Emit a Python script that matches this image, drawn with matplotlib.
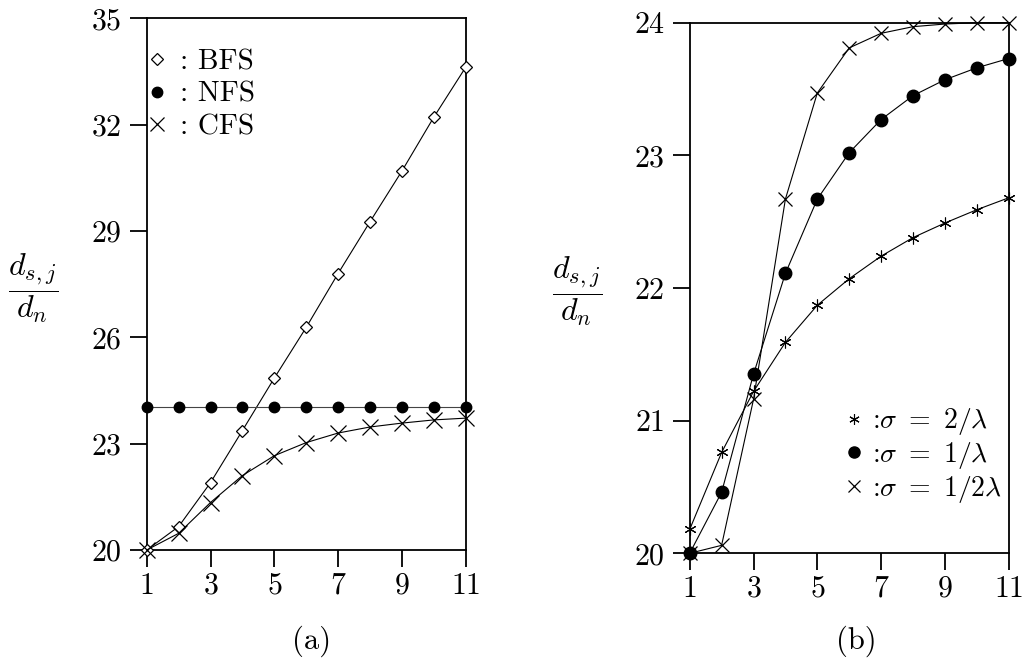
import matplotlib
matplotlib.use("Agg")
import matplotlib.pyplot as plt
from matplotlib.lines import Line2D

plt.rcParams['font.family'] = 'cmr10'
plt.rcParams['mathtext.fontset'] = 'cm'
plt.rcParams['axes.formatter.use_mathtext'] = True

# ---- data ----
x = [1, 2, 3, 4, 5, 6, 7, 8, 9, 10, 11]
bfs = [20.0, 20.66, 21.9, 23.37, 24.85, 26.28, 27.8, 29.26, 30.69, 32.21, 33.62]
nfs = [24.03] * 11
cfs = [20.0, 20.47, 21.34, 22.1, 22.66, 23.03, 23.3, 23.47, 23.58, 23.67, 23.72]

s2 = [20.18, 20.76, 21.22, 21.59, 21.87, 22.07, 22.24, 22.38, 22.49, 22.59, 22.68]
s1 = [20.0, 20.46, 21.35, 22.11, 22.67, 23.02, 23.27, 23.45, 23.57, 23.66, 23.73]
sh = [20.0, 20.06, 21.16, 22.67, 23.47, 23.81, 23.92, 23.97, 23.99, 24.0, 24.0]

xticks = [1, 3, 5, 7, 9, 11]
yticks_a = [20, 23, 26, 29, 32, 35]
yticks_b = [20, 21, 22, 23, 24]
labels_a = [': BFS', ': NFS', ': CFS']
labels_b = [r':$\sigma\ =\ 2/\lambda$', r':$\sigma\ =\ 1/\lambda$', r':$\sigma\ =\ 1/2\lambda$']
ylab = r'$\dfrac{d_{s,j}}{d_n}$'

fig = plt.figure(figsize=(10.24, 6.61), dpi=100)
W, H = 1024, 661

def px_axes(l, r, t, b):
    return fig.add_axes([l / W, 1 - b / H, (r - l) / W, (b - t) / H])

axa = px_axes(146.7, 465.7, 18.3, 550)
axb = px_axes(689.7, 1008.7, 22.7, 553.3)

lw = 0.8
ast = (6, 2, 0)

axa.plot(x, bfs, color='black', lw=lw, marker='D', ms=6.5, mfc='white', mec='black', mew=0.9, clip_on=False, zorder=3)
axa.plot(x, nfs, color='#444444', lw=lw, marker='o', ms=7.5, mfc='black', mec='black', clip_on=False, zorder=3)
axa.plot(x, cfs, color='black', lw=lw, marker='x', ms=11, mew=0.9, clip_on=False, zorder=3)

axb.plot(x, s2, color='black', lw=lw, marker=ast, ms=8.5, mew=0.8, clip_on=False, zorder=3)
axb.plot(x, s1, color='black', lw=lw, marker='o', ms=9, mfc='black', mec='black', clip_on=False, zorder=3)
axb.plot(x, sh, color='black', lw=lw, marker='x', ms=10.5, mew=0.9, clip_on=False, zorder=3)

for ax, yt in ((axa, yticks_a), (axb, yticks_b)):
    ax.set_xlim(1, 11)
    ax.set_ylim(yt[0], yt[-1])
    ax.set_xticks(xticks)
    ax.set_yticks(yt)
    ax.tick_params(direction='out', length=12, width=1.3, labelsize=21.5, pad=4,
                   top=False, right=False)
    ax.tick_params(axis='y', pad=6)
    for sp in ax.spines.values():
        sp.set_linewidth(1.3)

ha = [Line2D([], [], ls='none', marker='D', ms=6, mfc='white', mec='black', mew=0.9),
      Line2D([], [], ls='none', marker='o', ms=7.5, mfc='black', mec='black'),
      Line2D([], [], ls='none', marker='x', ms=10, mew=0.9, color='black')]
la = axa.legend(ha, labels_a, loc='upper left', bbox_to_anchor=(0.0, 0.942), frameon=False,
                fontsize=21, handlelength=0.7, handletextpad=0.45, labelspacing=0.2, borderpad=0,
                borderaxespad=0)

hb = [Line2D([], [], ls='none', marker=ast, ms=7.5, mew=0.8, color='black'),
      Line2D([], [], ls='none', marker='o', ms=8, mfc='black', mec='black'),
      Line2D([], [], ls='none', marker='x', ms=9, mew=0.9, color='black')]
lb = axb.legend(hb, labels_b, loc='upper left', bbox_to_anchor=(0.485, 0.277), frameon=False,
                fontsize=20, handlelength=0.7, handletextpad=0.3, labelspacing=0.1, borderpad=0,
                borderaxespad=0)

fig.text(33 / W, 1 - 288 / H, ylab, fontsize=23, ha='center', va='center')
fig.text(577 / W, 1 - 291 / H, ylab, fontsize=23, ha='center', va='center')
fig.text(312 / W, 1 - 641 / H, '(a)', fontsize=22, ha='center', va='center')
fig.text(856 / W, 1 - 641 / H, '(b)', fontsize=22, ha='center', va='center')

fig.savefig('out.png', dpi=100)
